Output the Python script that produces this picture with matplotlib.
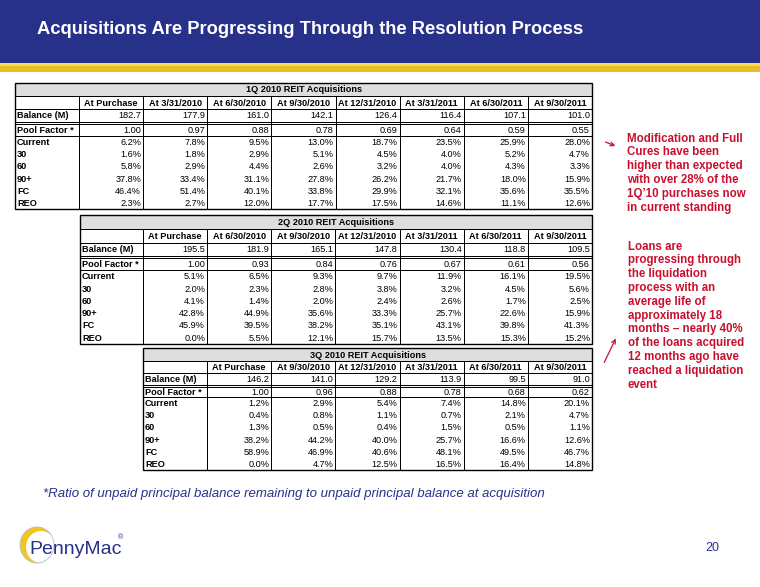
import matplotlib
matplotlib.use('Agg')
import matplotlib.pyplot as plt
from matplotlib.patches import Rectangle, Ellipse

plt.rcParams['font.family'] = ['Liberation Sans', 'DejaVu Sans']

W, H = 760, 587
fig = plt.figure(figsize=(7.6, 5.87), dpi=100)
ax = fig.add_axes([0, 0, 1, 1])
ax.set_xlim(0, W)
ax.set_ylim(H, 0)
ax.axis('off')

# ---------------- data ----------------
title = "Acquisitions Are Progressing Through the Resolution Process"
row_labels = ["Balance (M)", "Pool Factor *", "Current", "30", "60", "90+", "FC", "REO"]

t1_title = "1Q 2010 REIT Acquisitions"
t1_cols = ["At Purchase", "At 3/31/2010", "At 6/30/2010", "At 9/30/2010",
           "At 12/31/2010", "At 3/31/2011", "At 6/30/2011", "At 9/30/2011"]
t1_balance = [182.7, 177.9, 161.0, 142.1, 126.4, 116.4, 107.1, 101.0]
t1_pool = [1.00, 0.97, 0.88, 0.78, 0.69, 0.64, 0.59, 0.55]
t1_current = [6.2, 7.8, 9.5, 13.0, 18.7, 23.5, 25.9, 28.0]
t1_30 = [1.6, 1.8, 2.9, 5.1, 4.5, 4.0, 5.2, 4.7]
t1_60 = [5.8, 2.9, 4.4, 2.6, 3.2, 4.0, 4.3, 3.3]
t1_90 = [37.8, 33.4, 31.1, 27.8, 26.2, 21.7, 18.0, 15.9]
t1_fc = [46.4, 51.4, 40.1, 33.8, 29.9, 32.1, 35.6, 35.5]
t1_reo = [2.3, 2.7, 12.0, 17.7, 17.5, 14.6, 11.1, 12.6]

t2_title = "2Q 2010 REIT Acquisitions"
t2_cols = ["At Purchase", "At 6/30/2010", "At 9/30/2010", "At 12/31/2010",
           "At 3/31/2011", "At 6/30/2011", "At 9/30/2011"]
t2_balance = [195.5, 181.9, 165.1, 147.8, 130.4, 118.8, 109.5]
t2_pool = [1.00, 0.93, 0.84, 0.76, 0.67, 0.61, 0.56]
t2_current = [5.1, 6.5, 9.3, 9.7, 11.9, 16.1, 19.5]
t2_30 = [2.0, 2.3, 2.8, 3.8, 3.2, 4.5, 5.6]
t2_60 = [4.1, 1.4, 2.0, 2.4, 2.6, 1.7, 2.5]
t2_90 = [42.8, 44.9, 35.6, 33.3, 25.7, 22.6, 15.9]
t2_fc = [45.9, 39.5, 38.2, 35.1, 43.1, 39.8, 41.3]
t2_reo = [0.0, 5.5, 12.1, 15.7, 13.5, 15.3, 15.2]

t3_title = "3Q 2010 REIT Acquisitions"
t3_cols = ["At Purchase", "At 9/30/2010", "At 12/31/2010", "At 3/31/2011",
           "At 6/30/2011", "At 9/30/2011"]
t3_balance = [146.2, 141.0, 129.2, 113.9, 99.5, 91.0]
t3_pool = [1.00, 0.96, 0.88, 0.78, 0.68, 0.62]
t3_current = [1.2, 2.9, 5.4, 7.4, 14.8, 20.1]
t3_30 = [0.4, 0.8, 1.1, 0.7, 2.1, 4.7]
t3_60 = [1.3, 0.5, 0.4, 1.5, 0.5, 1.1]
t3_90 = [38.2, 44.2, 40.0, 25.7, 16.6, 12.6]
t3_fc = [58.9, 46.9, 40.6, 48.1, 49.5, 46.7]
t3_reo = [0.0, 4.7, 12.5, 16.5, 16.4, 14.8]

note1 = ("Modification and Full\nCures have been\nhigher than expected\n"
         "with over 28% of the\n1Q\u201910 purchases now\nin current standing")
note2 = ("Loans are\nprogressing through\nthe liquidation\nprocess with an\n"
         "average life of\napproximately 18\nmonths \u2013 nearly 40%\n"
         "of the loans acquired\n12 months ago have\nreached a liquidation\nevent")
footnote = "*Ratio of unpaid principal balance remaining to unpaid principal balance at acquisition"
page_no = "20"

# ---------------- styles ----------------
BLUE = '#28318A'
GOLD = '#E8BE24'
RED = '#C8102E'
PX = 0.72  # one pixel in points
TFS = 6.6

# ---------------- title bar ----------------
ax.add_patch(Rectangle((0, 0), W, 63, color=BLUE, lw=0, zorder=1))
ax.add_patch(Rectangle((0, 63), W, 4, color='#F6DA5A', lw=0, zorder=1))
ax.add_patch(Rectangle((0, 66), W, 6, color=GOLD, lw=0, zorder=1))
ax.text(37, 30, title, color='white', fontsize=13.2, fontweight='bold',
        ha='left', va='center', zorder=3)


def hline(y, x0, x1, lw=1.0):
    ax.plot([x0, x1], [y, y], color='black', lw=lw * PX, solid_capstyle='butt', zorder=4)


def vline(x, y0, y1, lw=1.0):
    ax.plot([x, x], [y0, y1], color='black', lw=lw * PX, solid_capstyle='butt', zorder=4)


def draw_table(x0, label_w, x1, ys, ttl, cols, rows):
    top, t_bot, h_bot, b_bot, p_top, p_bot, bottom = ys
    n = len(cols)
    cw = (x1 - x0 - label_w) / n
    xs = [x0 + label_w + i * cw for i in range(n + 1)]
    # title row
    ax.add_patch(Rectangle((x0, top), x1 - x0, t_bot - top, facecolor='#DEDEDE',
                           edgecolor='none', zorder=2))
    ax.text((x0 + x1) / 2, (top + t_bot) / 2 + 0.5, ttl, fontsize=TFS, fontweight='bold',
            ha='center', va='center', zorder=5)
    # outer border
    ax.add_patch(Rectangle((x0, top), x1 - x0, bottom - top, facecolor='none',
                           edgecolor='black', lw=1.4 * PX, zorder=4))
    for y in (t_bot, h_bot, b_bot, p_top, p_bot):
        hline(y, x0, x1)
    vline(x0 + label_w, t_bot, bottom)
    for x in xs[1:-1]:
        vline(x, t_bot, bottom)
    # header
    hy = (t_bot + h_bot) / 2 + 0.5
    for i, c in enumerate(cols):
        ax.text((xs[i] + xs[i + 1]) / 2, hy, c, fontsize=TFS, fontweight='bold',
                ha='center', va='center', zorder=5)
    # row centers
    centers = [(h_bot + b_bot) / 2, (p_top + p_bot) / 2]
    dh = (bottom - p_bot) / 6
    centers += [p_bot + dh * (k + 0.5) for k in range(6)]
    for r, (lab, vals) in enumerate(zip(row_labels, rows)):
        cy = centers[r] + 0.5
        ax.text(x0 + 2, cy, lab, fontsize=TFS, fontweight='bold', ha='left',
                va='center', zorder=5)
        for i, v in enumerate(vals):
            if r == 0:
                s = f"{v:.1f}"
            elif r == 1:
                s = f"{v:.2f}"
            else:
                s = f"{v:.1f}%"
            ax.text(xs[i + 1] - 2, cy, s, fontsize=TFS, ha='right', va='center', zorder=5)


draw_table(15, 64, 592, (83, 96, 109, 122, 123.5, 136, 209), t1_title, t1_cols,
           [t1_balance, t1_pool, t1_current, t1_30, t1_60, t1_90, t1_fc, t1_reo])
draw_table(80, 63, 592, (215, 229, 243, 256, 257.5, 270, 344), t2_title, t2_cols,
           [t2_balance, t2_pool, t2_current, t2_30, t2_60, t2_90, t2_fc, t2_reo])
draw_table(143, 64, 592, (348, 361, 373, 385, 386.5, 397, 470), t3_title, t3_cols,
           [t3_balance, t3_pool, t3_current, t3_30, t3_60, t3_90, t3_fc, t3_reo])

# ---------------- annotations ----------------
ax.text(627, 132.5, note1, color=RED, fontsize=8.3, fontweight='bold', ha='left',
        va='top', linespacing=1.2, zorder=5)
ax.text(628, 240.5, note2, color=RED, fontsize=8.3, fontweight='bold', ha='left',
        va='top', linespacing=1.2, zorder=5)
ax.annotate('', xy=(618, 147), xytext=(603, 141),
            arrowprops=dict(arrowstyle='->', color=RED, lw=0.9, mutation_scale=7))
ax.annotate('', xy=(617, 336), xytext=(603, 365),
            arrowprops=dict(arrowstyle='->', color=RED, lw=0.9, mutation_scale=7))

# ---------------- footnote ----------------
ax.text(43, 494, footnote, color=BLUE, fontsize=9.55, style='italic', ha='left',
        va='center', zorder=5)

# ---------------- logo ----------------
ax.add_patch(Ellipse((37, 545), 34, 36, facecolor='#F2C51F', edgecolor='none', zorder=3))
ax.add_patch(Ellipse((41, 547), 30, 32, facecolor='white', edgecolor='none', zorder=3))
ax.add_patch(Ellipse((37, 545), 34, 36, facecolor='none', edgecolor='#B9B9D0', lw=0.6, zorder=3))
ax.text(29, 549, "PennyMac", color=BLUE, fontsize=14, ha='left', va='center', zorder=5)
ax.text(118, 538, "\u00ae", color=BLUE, fontsize=5, ha='left', va='center', zorder=5)

ax.text(712, 548, page_no, color=BLUE, fontsize=9, ha='center', va='center', zorder=5)

fig.savefig('out.png', dpi=100, facecolor='white')
